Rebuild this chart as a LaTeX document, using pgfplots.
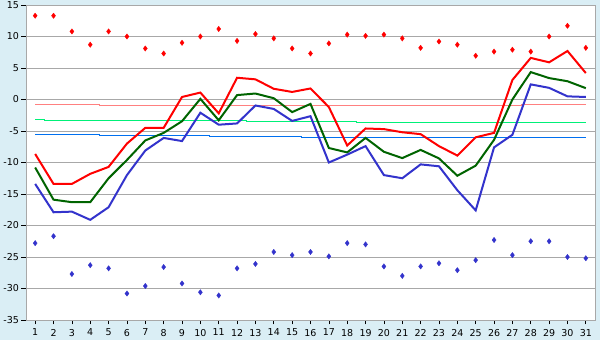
\documentclass[border=0pt]{standalone}
\usepackage{fontspec}
\setmainfont{DejaVu Sans}
\usepackage{pgfplots}
\pgfplotsset{compat=1.18}
\definecolor{bgblue}{RGB}{218,238,245}
\definecolor{gridgray}{RGB}{168,168,168}
\definecolor{linered}{RGB}{255,0,0}
\definecolor{linegreen}{RGB}{0,100,0}
\definecolor{lineblue}{RGB}{51,51,204}
\definecolor{normred}{RGB}{255,128,128}
\definecolor{normgreen}{RGB}{0,240,120}
\definecolor{normblue}{RGB}{0,112,240}
\begin{document}
\begin{tikzpicture}[x=1pt,y=1pt]
\fill[bgblue] (0,0) rectangle (600,340);
\useasboundingbox (0,0) rectangle (600,340);
\begin{axis}[
  at={(26pt,20pt)}, anchor=south west,
  scale only axis, width=569pt, height=315pt,
  xmin=0.5, xmax=31.5, ymin=-35, ymax=15,
  xtick={1,...,31}, ytick={-35,-30,...,15},
  axis background/.style={fill=white},
  axis line style={draw=gridgray, line width=0.8pt},
  ymajorgrids, grid style={draw=gridgray, line width=0.9pt},
  tick pos=left, tick align=outside,
  major tick length=4.5pt,
  tick style={black, line width=0.7pt},
  ticklabel style={font=\fontsize{9.5}{10}\selectfont, text=black},
  /pgf/number format/assume math mode=true,
  xticklabel style={yshift=-1pt},
  yticklabel style={xshift=1pt},
  clip=false,
]
% normals
\addplot[draw=normred, line width=1.3pt, mark=none] coordinates {
(1,-0.794)(4.5,-0.794)(4.5,-0.952)(27.5,-0.952)(27.5,-0.794)(31,-0.794)};
\addplot[draw=normgreen, line width=1.3pt, mark=none] coordinates {
(1,-3.175)(1.5,-3.175)(1.5,-3.333)(12.5,-3.333)(12.5,-3.492)(18.5,-3.492)(18.5,-3.651)(31,-3.651)};
\addplot[draw=normblue, line width=1.3pt, mark=none] coordinates {
(1,-5.556)(4.5,-5.556)(4.5,-5.714)(10.5,-5.714)(10.5,-5.873)(15.5,-5.873)(15.5,-6.032)(31,-6.032)};
% max temperature
\addplot[linered, line width=2pt, mark=none] coordinates {
(1,-8.65)(2,-13.4)(3,-13.4)(4,-11.8)(5,-10.7)(6,-7.0)(7,-4.5)(8,-4.5)(9,0.4)(10,1.1)
(11,-2.2)(12,3.45)(13,3.2)(14,1.7)(15,1.2)(16,1.75)(17,-1.2)(18,-7.3)(19,-4.6)(20,-4.7)
(21,-5.2)(22,-5.5)(23,-7.4)(24,-8.9)(25,-6.0)(26,-5.3)(27,3.1)(28,6.6)(29,5.9)(30,7.7)(31,4.2)};
% mean temperature
\addplot[linegreen, line width=2pt, mark=none] coordinates {
(1,-10.8)(2,-15.9)(3,-16.3)(4,-16.3)(5,-12.5)(6,-9.6)(7,-6.5)(8,-5.3)(9,-3.45)(10,0.1)
(11,-3.3)(12,0.7)(13,0.95)(14,0.2)(15,-2.0)(16,-0.7)(17,-7.7)(18,-8.4)(19,-6.1)(20,-8.3)
(21,-9.3)(22,-8.0)(23,-9.35)(24,-12.1)(25,-10.5)(26,-6.4)(27,0.0)(28,4.35)(29,3.4)(30,2.9)(31,1.8)};
% min temperature
\addplot[lineblue, line width=2pt, mark=none] coordinates {
(1,-13.4)(2,-17.9)(3,-17.8)(4,-19.1)(5,-17.1)(6,-12.0)(7,-8.1)(8,-6.1)(9,-6.6)(10,-2.1)
(11,-4.0)(12,-3.8)(13,-0.95)(14,-1.5)(15,-3.4)(16,-2.65)(17,-10.0)(18,-8.75)(19,-7.4)(20,-12.0)
(21,-12.5)(22,-10.3)(23,-10.6)(24,-14.4)(25,-17.6)(26,-7.6)(27,-5.6)(28,2.4)(29,1.85)(30,0.5)(31,0.4)};
% record max
\addplot[only marks, mark=diamond*, mark size=2.7pt, mark options={fill=linered, draw=linered, line width=0.3pt}] coordinates {
(1,13.3)(2,13.3)(3,10.8)(4,8.7)(5,10.8)(6,10.0)(7,8.1)(8,7.3)(9,9.0)(10,10.0)
(11,11.2)(12,9.3)(13,10.4)(14,9.7)(15,8.1)(16,7.3)(17,8.9)(18,10.3)(19,10.1)(20,10.3)
(21,9.7)(22,8.2)(23,9.2)(24,8.7)(25,6.95)(26,7.6)(27,7.9)(28,7.6)(29,10.0)(30,11.7)(31,8.2)};
% record min
\addplot[only marks, mark=diamond*, mark size=2.7pt, mark options={fill=lineblue, draw=lineblue, line width=0.3pt}] coordinates {
(1,-22.8)(2,-21.7)(3,-27.7)(4,-26.3)(5,-26.8)(6,-30.8)(7,-29.6)(8,-26.6)(9,-29.2)(10,-30.6)
(11,-31.1)(12,-26.8)(13,-26.1)(14,-24.2)(15,-24.7)(16,-24.2)(17,-24.9)(18,-22.8)(19,-23.0)(20,-26.5)
(21,-28.0)(22,-26.5)(23,-26.0)(24,-27.1)(25,-25.5)(26,-22.3)(27,-24.7)(28,-22.5)(29,-22.5)(30,-25.0)(31,-25.2)};
\end{axis}
\end{tikzpicture}
\end{document}
